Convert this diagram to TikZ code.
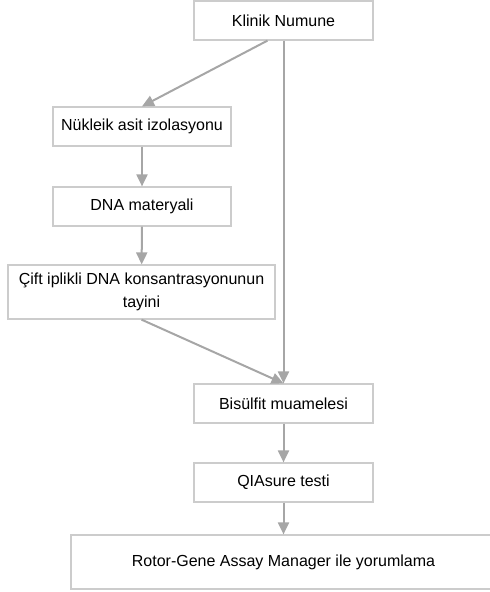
\documentclass[tikz,border=0pt]{standalone}
\usepackage{fontspec}
\setmainfont{Liberation Sans}
\usetikzlibrary{arrows.meta}
\definecolor{boxgray}{RGB}{204,204,204}
\definecolor{arrowgray}{RGB}{166,166,166}

\begin{document}
\begin{tikzpicture}[x=1pt,y=1pt,
  stepbox/.style={draw=boxgray,line width=1.2pt,minimum width=179pt,minimum height=39pt,
    inner sep=0pt,align=center,font=\fontsize{16}{23}\selectfont},
  flow/.style={draw=arrowgray,line width=2pt,-{Triangle[length=12pt,width=11pt]}}]

\useasboundingbox (0,0) rectangle (490,-592);

%klinik numune
\node[stepbox] (klinik) at (283.5,-20.5) {Klinik Numune};
%nukleik asit izolasyonu
\node[stepbox,minimum width=178pt] (izolasyon) at (142,-126.5) {Nükleik asit izolasyonu};
%dna materyali
\node[stepbox,minimum width=178pt] (dna) at (142,-206.5) {DNA materyali};
%cift iplikli dna
\node[stepbox,minimum width=267pt,minimum height=54pt] (cift) at (141.5,-292)
  {Çift iplikli DNA konsantrasyonunun\\tayini};
%bisulfit muamelesi
\node[stepbox] (bisulfit) at (283.5,-403.5) {Bisülfit muamelesi};
%qiasure testi
\node[stepbox] (qiasure) at (283.5,-482.5) {QIAsure testi};
%rotor-gene assay manager
\node[stepbox,minimum width=425pt,minimum height=54pt] (rotor) at (283.5,-562)
  {Rotor-Gene Assay Manager ile yorumlama};

%arrows
\draw[flow] ([xshift=-16pt]klinik.south) -- (izolasyon.north);
\draw[flow] (klinik.south) -- (bisulfit.north);
\draw[flow] (izolasyon) -- (dna);
\draw[flow] (dna) -- (cift);
\draw[flow] (cift.south) -- (bisulfit.north);
\draw[flow] (bisulfit) -- (qiasure);
\draw[flow] (qiasure) -- (rotor);

\end{tikzpicture}
\end{document}
